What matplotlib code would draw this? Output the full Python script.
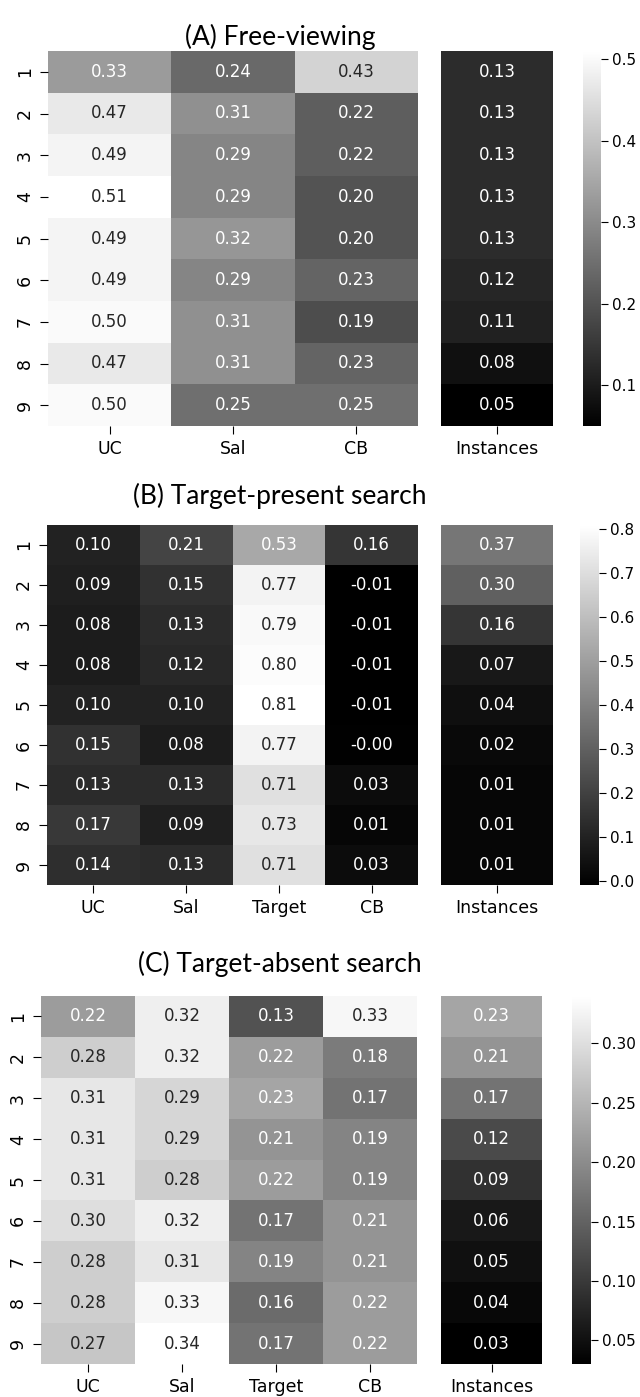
import matplotlib.pyplot as plt
import numpy as np
import seaborn as sns

rows = [str(i) for i in range(1, 10)]
cols_a = ["UC", "Sal", "CB"]
cols_bc = ["UC", "Sal", "Target", "CB"]

# (A) Free-viewing
uc_a = [0.33, 0.47, 0.49, 0.51, 0.49, 0.49, 0.50, 0.47, 0.50]
sal_a = [0.24, 0.31, 0.29, 0.29, 0.32, 0.29, 0.31, 0.31, 0.25]
cb_a = [0.43, 0.22, 0.22, 0.20, 0.20, 0.23, 0.19, 0.23, 0.25]
inst_a = [0.13, 0.13, 0.13, 0.13, 0.13, 0.12, 0.11, 0.08, 0.05]

# (B) Target-present search
uc_b = [0.10, 0.09, 0.08, 0.08, 0.10, 0.15, 0.13, 0.17, 0.14]
sal_b = [0.21, 0.15, 0.13, 0.12, 0.10, 0.08, 0.13, 0.09, 0.13]
tgt_b = [0.53, 0.77, 0.79, 0.80, 0.81, 0.77, 0.71, 0.73, 0.71]
cb_b = [0.16, -0.01, -0.01, -0.01, -0.01, -0.004, 0.03, 0.01, 0.03]
inst_b = [0.37, 0.30, 0.16, 0.07, 0.04, 0.02, 0.01, 0.01, 0.01]

# (C) Target-absent search
uc_c = [0.22, 0.28, 0.31, 0.31, 0.31, 0.30, 0.28, 0.28, 0.27]
sal_c = [0.32, 0.32, 0.29, 0.29, 0.28, 0.32, 0.31, 0.33, 0.34]
tgt_c = [0.13, 0.22, 0.23, 0.21, 0.22, 0.17, 0.19, 0.16, 0.17]
cb_c = [0.33, 0.18, 0.17, 0.19, 0.19, 0.21, 0.21, 0.22, 0.22]
inst_c = [0.23, 0.21, 0.17, 0.12, 0.09, 0.06, 0.05, 0.04, 0.03]

W, H = 640, 1397
fig = plt.figure(figsize=(W / 100, H / 100), dpi=100)


def box(x0, y0, x1, y1):
    # pixel box (top-left origin) -> figure fraction
    return [x0 / W, 1 - y1 / H, (x1 - x0) / W, (y1 - y0) / H]


def panel(main, inst, cols, title, title_y, main_box, inst_box, cbar_box):
    main = np.column_stack(main)
    inst = np.array(inst).reshape(-1, 1)
    vmin = min(main.min(), inst.min())
    vmax = max(main.max(), inst.max())
    ax1 = fig.add_axes(box(*main_box))
    ax2 = fig.add_axes(box(*inst_box))
    cax = fig.add_axes(box(*cbar_box))
    sns.heatmap(main, ax=ax1, cmap="gray", vmin=vmin, vmax=vmax, annot=True,
                fmt=".2f", annot_kws={"size": 12}, cbar=False,
                xticklabels=cols, yticklabels=rows)
    sns.heatmap(inst, ax=ax2, cmap="gray", vmin=vmin, vmax=vmax, annot=True,
                fmt=".2f", annot_kws={"size": 12}, cbar_ax=cax,
                xticklabels=["Instances"], yticklabels=False)
    for a in (ax1, ax2):
        a.tick_params(labelsize=12.5, length=6, pad=4)
        plt.setp(a.get_xticklabels(), rotation=0)
    plt.setp(ax1.get_yticklabels(), rotation=90, va="center")
    cax.tick_params(labelsize=11, length=5, pad=3)
    fig.text(280 / W, 1 - title_y / H, title, ha="center", va="center",
             fontsize=19, family="Lato")


panel([uc_a, sal_a, cb_a], inst_a, cols_a, "(A) Free-viewing", 37,
      (48, 51, 418, 426), (441, 51, 553, 426), (583, 51, 601, 426))
panel([uc_b, sal_b, tgt_b, cb_b], inst_b, cols_bc, "(B) Target-present search", 496,
      (47, 525, 418, 885), (441, 525, 553, 885), (580, 525, 599, 885))
panel([uc_c, sal_c, tgt_c, cb_c], inst_c, cols_bc, "(C) Target-absent search", 964,
      (41, 996, 417, 1364), (441, 996, 542, 1364), (572, 996, 591, 1364))

plt.savefig("out.png", dpi=100)
